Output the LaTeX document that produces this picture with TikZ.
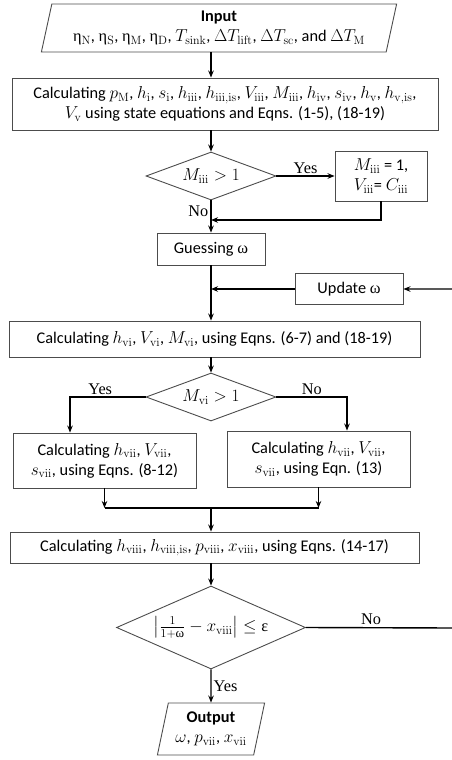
\documentclass[tikz,border=0pt]{standalone}
\usepackage{amsmath}
\usepackage[no-math]{fontspec}
\setmainfont{Carlito}
\newfontfamily\grk{Liberation Serif}
\usetikzlibrary{shapes.geometric,arrows.meta}
\DeclareMathSizes{16.3}{16.3}{13}{10}
\newcommand{\sub}[2]{$#1_{\mathrm{#2}}$}
\newcommand{\et}[1]{{\grk η}$_{\mathrm{#1}}$}
\newcommand{\fsz}{\fontsize{16.3}{20}\selectfont}
\tikzset{
  box/.style={draw=black!70, line width=0.9pt, align=center, inner sep=0pt},
  dec/.style={diamond, draw=black!70, line width=0.9pt, align=center, inner sep=0pt},
  io/.style={trapezium, trapezium left angle=75, trapezium right angle=105,
    trapezium stretches=true, draw=black!70, line width=0.9pt, align=center, inner sep=0pt},
  lbl/.style={font=\grk\fsz, inner sep=2pt}
}
\begin{document}
\begin{tikzpicture}[x=1pt, y=-1pt, >={Stealth[length=7pt,width=5.5pt]}, line width=1.4pt, font=\fsz]
  \useasboundingbox (0,0) rectangle (451,760);

  \node at (219,28) [io, minimum width=356pt, minimum height=48pt] (in) {{\bfseries Input}\\ \et{N}, \et{S}, \et{M}, \et{D}, \sub{T}{sink}, $\Delta$\sub{T}{lift}, $\Delta$\sub{T}{sc}, and $\Delta$\sub{T}{M}};
  \node at (225,104) [box, minimum width=426pt, minimum height=52pt] (c1) {Calculating \sub{p}{M}, \sub{h}{i}, \sub{s}{i}, \sub{h}{iii}, \sub{h}{iii,is}, \sub{V}{iii}, \sub{M}{iii}, \sub{h}{iv}, \sub{s}{iv}, \sub{h}{v}, \sub{h}{v,is},\\ \sub{V}{v} using state equations and Eqns. (1-5), (18-19)};

  \node at (211,176) [dec, aspect=2.7, minimum width=130pt, minimum height=48pt] (d1) {$M_{\mathrm{iii}}>1$};
  \node at (381,176) [box, minimum width=92pt, minimum height=50pt] (s1) {$M_{\mathrm{iii}}$ = 1,\\ $V_{\mathrm{iii}}$= $C_{\mathrm{iii}}$};

  \node at (211,249) [box, minimum width=108pt, minimum height=32pt] (g) {Guessing {\grk ω}};
  \node at (349,289) [box, minimum width=108pt, minimum height=31pt] (u) {Update {\grk ω}};

  \node at (214.5,339) [box, minimum width=411pt, minimum height=36pt] (c2) {Calculating \sub{h}{vi}, \sub{V}{vi}, \sub{M}{vi}, using Eqns. (6-7) and (18-19)};
  \node at (211,397) [dec, aspect=2.7, minimum width=130pt, minimum height=48pt] (d2) {$M_{\mathrm{vi}}>1$};

  \node at (104.5,460.5) [box, minimum width=183pt, minimum height=55pt] (cl) {Calculating \sub{h}{vii}, \sub{V}{vii},\\ \sub{s}{vii}, using Eqns. (8-12)};
  \node at (318.5,459) [box, minimum width=183pt, minimum height=56pt] (cr) {Calculating \sub{h}{vii}, \sub{V}{vii},\\ \sub{s}{vii}, using Eqn. (13)};

  \node at (214.5,547.5) [box, minimum width=409pt, minimum height=31pt] (c3) {Calculating \sub{h}{viii}, \sub{h}{viii,is}, \sub{p}{viii}, \sub{x}{viii}, using Eqns. (14-17)};
  \node at (211,627.5) [dec, aspect=2.28, minimum width=189pt, minimum height=83pt] (d3) {$\left|\frac{1}{1+\text{\grk ω}}-x_{\mathrm{viii}}\right|\leq\text{\grk ε}$};
  \node at (211,729) [io, minimum width=108pt, minimum height=52pt] (out) {{\bfseries Output}\\ $\omega$, \sub{p}{vii}, \sub{x}{vii}};

  \coordinate (m1) at (211,220);
  \coordinate (yl) at (70,397);
  \coordinate (nr) at (347,397);
  \coordinate (m2) at (211,508);
  \coordinate (lp) at (454,628);

  \draw[->] (in.south -| d1) -- (c1.north -| d1);
  \draw[->] (c1.south -| d1) -- (d1.north);
  \draw[->] (d1.east) -- (s1.west) node[lbl, midway, above] (y1) {Yes};
  \draw[->] (d1.south) -- (g.north) node[lbl, pos=0.35, left] (n1) {No};
  \draw[->] (s1.south) |- (m1);
  \draw[->] (g.south) -- (c2.north -| g);
  \draw[->] (u.west) -- (u.west -| g);
  \draw[->] (d3.east) -- (lp) node[lbl, pos=0.44, above] (n3) {No} |- (u.east);
  \draw[->] (c2.south -| d2) -- (d2.north);
  \draw[->] (d2.west) -- (yl) node[lbl, pos=0.6, above] (y2) {Yes} -- (yl |- cl.north);
  \draw[->] (d2.east) -- (nr) node[lbl, pos=0.5, above] (n2) {No} -- (nr |- cr.north);
  \draw[->] (cl.south) -- (cl.south |- m2);
  \draw[->] (cr.south) -- (cr.south |- m2);
  \draw (cl.south |- m2) -- (cr.south |- m2);
  \draw[->] (m2) -- (c3.north -| m2);
  \draw[->] (c3.south -| m2) -- (d3.north);
  \draw[->] (d3.south) -- (out.north) node[lbl, midway, right] (y3) {Yes};
\end{tikzpicture}
\end{document}
